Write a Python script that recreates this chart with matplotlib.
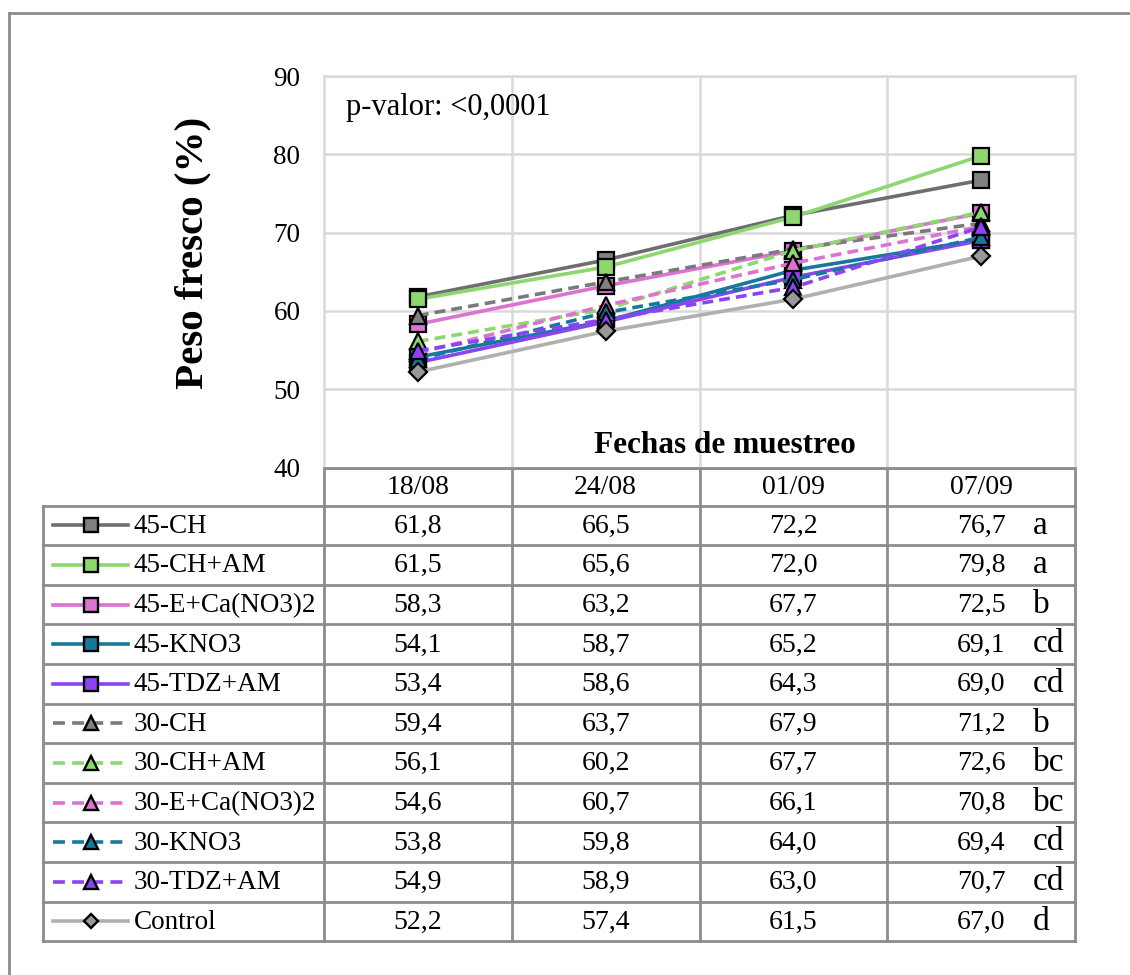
import matplotlib.pyplot as plt

plt.rcParams['font.family'] = ['Liberation Serif', 'DejaVu Serif']

# datos: peso fresco (%) por tratamiento y fecha de muestreo
fechas = ['18/08', '24/08', '01/09', '07/09']
tratamientos = ['45-CH', '45-CH+AM', '45-E+Ca(NO3)2', '45-KNO3', '45-TDZ+AM',
                '30-CH', '30-CH+AM', '30-E+Ca(NO3)2', '30-KNO3', '30-TDZ+AM',
                'Control']
peso = [
    [61.8, 66.5, 72.2, 76.7],
    [61.5, 65.6, 72.0, 79.8],
    [58.3, 63.2, 67.7, 72.5],
    [54.1, 58.7, 65.2, 69.1],
    [53.4, 58.6, 64.3, 69.0],
    [59.4, 63.7, 67.9, 71.2],
    [56.1, 60.2, 67.7, 72.6],
    [54.6, 60.7, 66.1, 70.8],
    [53.8, 59.8, 64.0, 69.4],
    [54.9, 58.9, 63.0, 70.7],
    [52.2, 57.4, 61.5, 67.0],
]
letras = ['a', 'a', 'b', 'cd', 'cd', 'b', 'bc', 'bc', 'cd', 'cd', 'd']

colores = ['#6e6e6e', '#8cd86e', '#dc72d2', '#17789e', '#8b44f2',
           '#7a7a7a', '#8cd86e', '#dc72d2', '#17789e', '#8b44f2', '#b0b0b0']
relleno = ['#808080', '#8cd86e', '#dc72d2', '#17789e', '#8b44f2',
           '#808080', '#8cd86e', '#dc72d2', '#17789e', '#8b44f2', '#999999']
marcadores = ['s'] * 5 + ['^'] * 5 + ['D']
estilos = ['-'] * 5 + ['--'] * 5 + ['-']

W, H = 1130, 975
fig = plt.figure(figsize=(W / 100, H / 100), dpi=100)


def caja(x0, y0, x1, y1):
    return [x0 / W, 1 - y1 / H, (x1 - x0) / W, (y1 - y0) / H]


fondo = fig.add_axes([0, 0, 1, 1])
fondo.set_xlim(0, W)
fondo.set_ylim(H, 0)
fondo.axis('off')

# marco exterior
fondo.plot([9, W], [13, 13], color='#8c8c8c', lw=2)
fondo.plot([9, 9], [13, H], color='#8c8c8c', lw=2)

# grafico de lineas
x0, x1, ytop, ybot = 324, 1075, 76, 467.5
ax = fig.add_axes(caja(x0, ytop, x1, ybot))
xs = list(range(len(fechas)))
for i, nombre in enumerate(tratamientos):
    kw = dict(color=colores[i], lw=2.6, marker=marcadores[i],
              markerfacecolor=relleno[i], markeredgecolor='black',
              markeredgewidth=1.6, markersize=12 if marcadores[i] != 'D' else 9)
    if estilos[i] == '--':
        kw['dashes'] = (3.0, 1.7)
    ax.plot(xs, peso[i], **kw)

ax.set_xlim(-0.5, len(fechas) - 0.5)
ax.set_ylim(40, 90)
ax.set_yticks(range(40, 91, 10))
ax.set_xticks([0.5, 1.5, 2.5])
ax.set_xticklabels([])
ax.tick_params(axis='x', length=0)
ax.tick_params(axis='y', length=0, pad=17, labelsize=19.5)
ax.grid(True, color='#d9d9d9', lw=1.8)
ax.set_axisbelow(True)
for lado in ['left', 'right', 'top']:
    ax.spines[lado].set_color('#d9d9d9')
    ax.spines[lado].set_linewidth(1.8)
ax.spines['bottom'].set_color('#8c8c8c')
ax.spines['bottom'].set_linewidth(2)

ax.text(0.029, 0.92, 'p-valor: <0,0001', transform=ax.transAxes,
        fontsize=22, va='center', ha='left')
ax.text(0.534, 0.057, 'Fechas de muestreo', transform=ax.transAxes,
        fontsize=22.5, fontweight='bold', va='center', ha='center')

fig.text(193 / W, 1 - 253 / H, 'Peso fresco (%)', rotation=90, fontsize=29.5,
         fontweight='bold', ha='center', va='center')

# tabla de datos con leyenda
gris = '#8c8c8c'
col_x = [x0 + (x1 - x0) * k / len(fechas) for k in range(len(fechas) + 1)]
tab_left = 43
head_top, head_bot = 467.5, 505.5
fila = 39.6
filas_y = [head_bot + fila * k for k in range(len(tratamientos) + 1)]
tab_bot = filas_y[-1]

fondo.plot([x0, x1], [head_top, head_top], color=gris, lw=2)
for yy in filas_y:
    fondo.plot([tab_left, x1], [yy, yy], color=gris, lw=2)
fondo.plot([tab_left, tab_left], [head_bot, tab_bot], color=gris, lw=2)
for xx in col_x:
    fondo.plot([xx, xx], [head_top, tab_bot], color=gris, lw=2)

for k, f in enumerate(fechas):
    fondo.text((col_x[k] + col_x[k + 1]) / 2, (head_top + head_bot) / 2 + 1, f,
               fontsize=20, ha='center', va='center')

for i, nombre in enumerate(tratamientos):
    yc = (filas_y[i] + filas_y[i + 1]) / 2
    kw = dict(color=colores[i], lw=2.6)
    if estilos[i] == '--':
        kw['dashes'] = (3.3, 2.0)
    fondo.plot([53, 128], [yc, yc], **kw)
    fondo.plot([90.5], [yc], marker=marcadores[i], markerfacecolor=relleno[i],
               markeredgecolor='black', markeredgewidth=1.7,
               markersize=10 if marcadores[i] != 'D' else 7.5)
    fondo.text(134, yc + 1, nombre, fontsize=19.5, ha='left', va='center')
    for k, v in enumerate(peso[i]):
        fondo.text((col_x[k] + col_x[k + 1]) / 2, yc + 1,
                   f'{v:.1f}'.replace('.', ','),
                   fontsize=20, ha='center', va='center')
    fondo.text(1033, yc, letras[i], fontsize=24, ha='left', va='center')

fig.savefig('out.png', dpi=100)
